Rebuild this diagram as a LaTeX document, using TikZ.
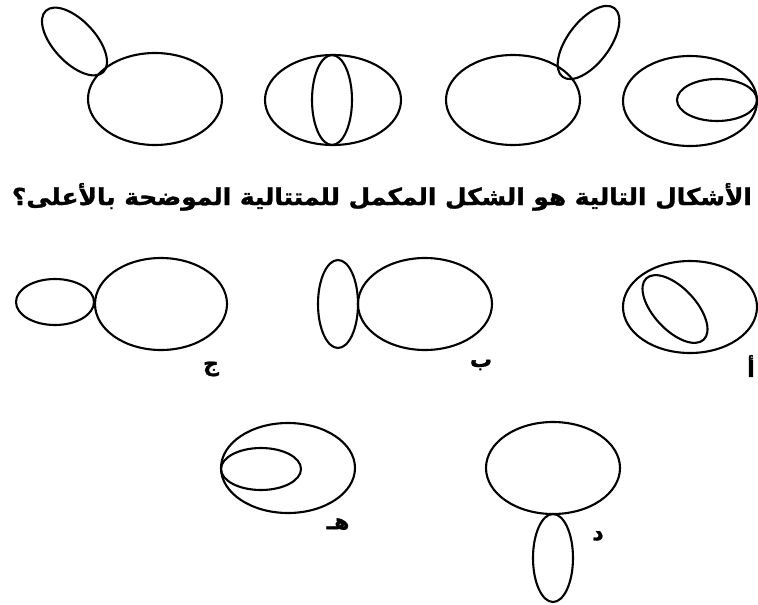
\documentclass[tikz,border=0pt]{standalone}
\usepackage{fontspec}
\usepackage{graphicx}
\TeXXeTstate=1
\newfontfamily\arabicfont[Script=Arabic,FakeBold=1.2]{DejaVu Sans Bold}
\tikzset{
  shp/.style={draw=black, line width=2.1pt},
  lbl/.style={font=\arabicfont\fontsize{22}{22}\selectfont, inner sep=0pt}
}
\begin{document}
\begin{tikzpicture}[x=1pt,y=-1pt]
\path[use as bounding box, fill=white] (0,0) rectangle (758,605);
% top row
\draw[shp] (155,99) ellipse [x radius=67pt, y radius=46pt];
\draw[shp, rotate around={-47:(74.5,41.5)}] (74.5,41.5) ellipse [x radius=42pt, y radius=21pt];
\draw[shp] (333,100) ellipse [x radius=68pt, y radius=45pt];
\draw[shp] (332,100) ellipse [x radius=20pt, y radius=45pt];
\draw[shp] (513,100) ellipse [x radius=67pt, y radius=45pt];
\draw[shp, rotate around={53:(588.5,42.5)}] (588.5,42.5) ellipse [x radius=43pt, y radius=21pt];
\draw[shp] (690,101) ellipse [x radius=67pt, y radius=45pt];
\draw[shp] (717,100) ellipse [x radius=40pt, y radius=21pt];
% question
\node[inner sep=0pt, anchor=base] (q) at (382,205) {\resizebox{740pt}{22pt}{\arabicfont\beginR الأشكال التالية هو الشكل المكمل للمتتالية الموضحة بالأعلى؟\endR}};
% row 2
\draw[shp] (55,302) ellipse [x radius=39pt, y radius=23pt];
\draw[shp] (161,304) ellipse [x radius=66pt, y radius=46pt];
\node[lbl] (j) at (211,369) {\beginR ج\endR};
\draw[shp] (338,304) ellipse [x radius=20pt, y radius=44pt];
\draw[shp] (425,304) ellipse [x radius=67pt, y radius=46pt];
\node[lbl] (b) at (481,365) {\beginR ب\endR};
\draw[shp] (690,307) ellipse [x radius=67pt, y radius=46pt];
\draw[shp, rotate around={-47:(675,309)}] (675,309) ellipse [x radius=42pt, y radius=21pt];
\node[lbl] (a) at (751,366) {\beginR أ\endR};
% row 3
\draw[shp] (288,468) ellipse [x radius=67pt, y radius=45pt];
\draw[shp] (261,469) ellipse [x radius=40pt, y radius=21pt];
\node[lbl] (h) at (338,524) {\beginR هـ\endR};
\draw[shp] (553,468) ellipse [x radius=67pt, y radius=46pt];
\draw[shp] (553,558) ellipse [x radius=20pt, y radius=44pt];
\node[lbl] (d) at (598,536) {\beginR د\endR};
\end{tikzpicture}
\end{document}
